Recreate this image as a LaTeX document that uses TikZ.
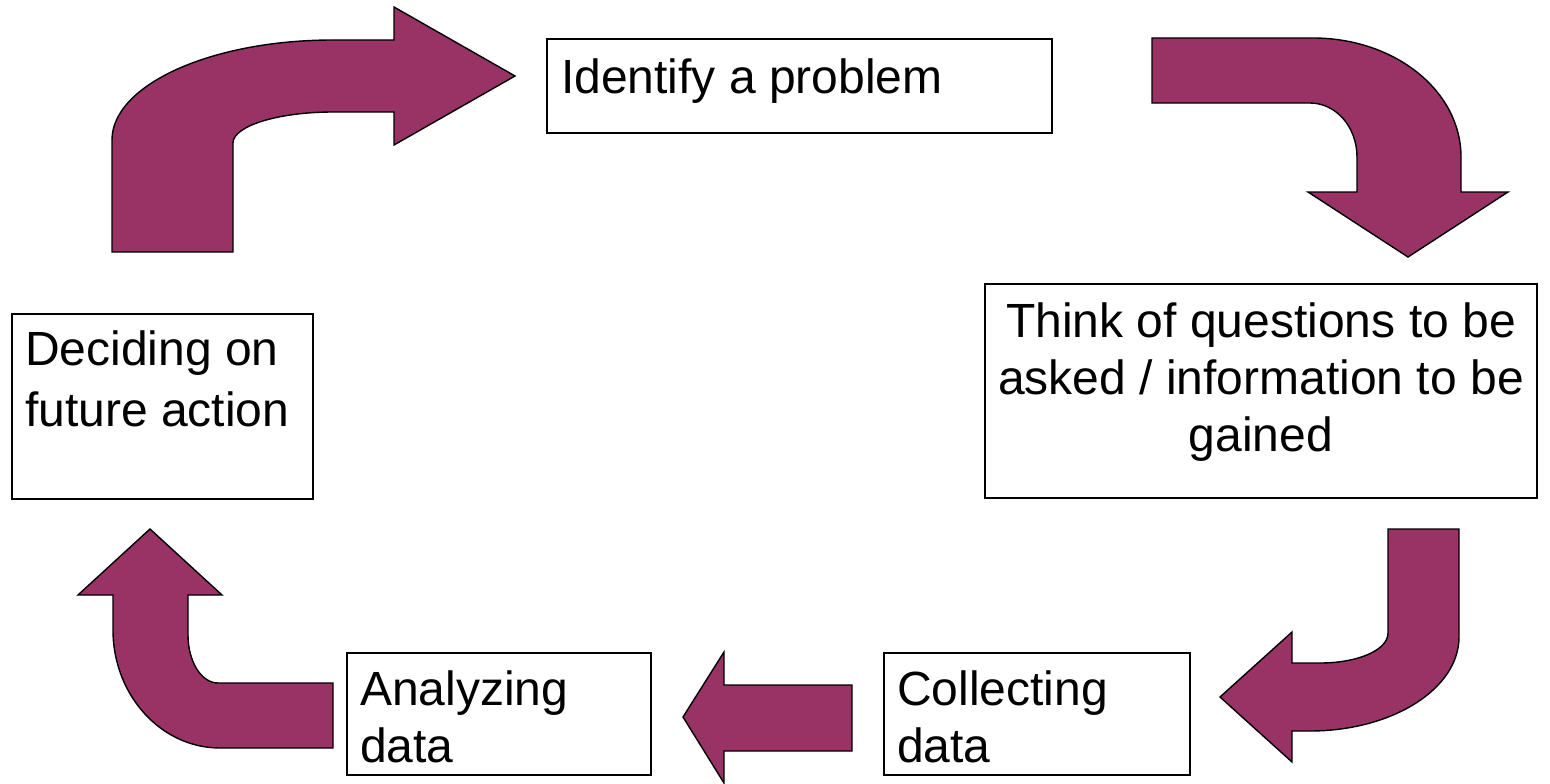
\documentclass[tikz,border=0pt]{standalone}
\usepackage{fontspec}
\setmainfont{Liberation Sans}
\definecolor{plum}{RGB}{153,51,102}
\begin{document}
\begin{tikzpicture}[x=1pt,y=-1pt,
  arrowshape/.style={fill=plum,draw=black,line width=1.4pt,line join=miter},
  boxshape/.style={draw=black,line width=1.4pt,fill=white},
  label/.style={inner sep=0pt,font=\fontsize{48}{57}\selectfont},
]
\useasboundingbox (0,0) rectangle (1550,784);

% boxes (named coordinates for corners)
\coordinate (b1a) at (547,39);  \coordinate (b1b) at (1052,133);
\coordinate (b2a) at (985,284); \coordinate (b2b) at (1537,498);
\coordinate (b3a) at (12,314);  \coordinate (b3b) at (313,499);
\coordinate (b4a) at (347,653); \coordinate (b4b) at (651,775);
\coordinate (b5a) at (884,653); \coordinate (b5b) at (1190,775);
\draw[boxshape] (b1a) rectangle (b1b);
\draw[boxshape] (b2a) rectangle (b2b);
\draw[boxshape] (b3a) rectangle (b3b);
\draw[boxshape] (b4a) rectangle (b4b);
\draw[boxshape] (b5a) rectangle (b5b);

\node[label,anchor=base west] (t1) at (561,93) {Identify a problem};
\node[label,anchor=base,align=center] (t2) at (1261,451) {Think of questions to be\\asked / information to be\\gained};
\node[label,anchor=base west,align=left] (t3) at (25,426) {Deciding on\\[4pt]future action};
\node[label,anchor=base west,align=left] (t4) at (360,762) {Analyzing\\data};
\node[label,anchor=base west,align=left] (t5) at (897,762) {Collecting\\data};

% arrow 1: top-left, up then right
\draw[arrowshape] (112,252) -- (112,140)
  .. controls (112,85) and (211,40) .. (333,40)
  -- (394,40) -- (394,7) -- (515,76) -- (394,145) -- (394,112) -- (333,112)
  .. controls (278,112) and (233,126) .. (233,143)
  -- (233,252) -- cycle;

% arrow 2: top-right, right then down
\draw[arrowshape] (1152,38) -- (1313,38)
  .. controls (1395,38) and (1461,91) .. (1461,157)
  -- (1461,192) -- (1508,192) -- (1408,257) -- (1308,192) -- (1357,192) -- (1357,157)
  .. controls (1357,127) and (1336,103) .. (1310,103)
  -- (1152,103) -- cycle;

% arrow 3: right, down then left
\draw[arrowshape] (1388,529) -- (1459,529) -- (1459,637)
  .. controls (1459,689) and (1392,731) .. (1310,731)
  -- (1292,731) -- (1292,762) -- (1220,697) -- (1292,632) -- (1292,663) -- (1320,663)
  .. controls (1358,663) and (1388,650) .. (1388,633)
  -- cycle;

% arrow 4: straight left
\draw[arrowshape] (683,717) -- (724,652) -- (724,685) -- (852,685) -- (852,751)
  -- (724,751) -- (724,783) -- cycle;

% arrow 5: bottom-left, left then up
\draw[arrowshape] (333,683) -- (333,748) -- (220,748)
  .. controls (161,748) and (113,695) .. (113,630)
  -- (113,595) -- (78,595) -- (150,529) -- (222,595) -- (188,595) -- (188,635)
  .. controls (188,661) and (201,683) .. (218,683)
  -- cycle;
\end{tikzpicture}
\end{document}
